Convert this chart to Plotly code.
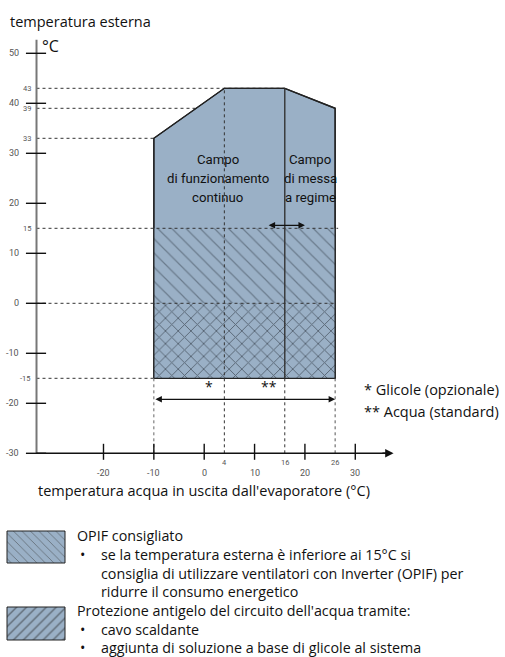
import plotly.graph_objects as go

# ---------------- data ----------------
env_x = [-10, -10, 4, 16, 26, 26, -10]          # operating envelope (water outlet °C)
env_y = [-15, 33, 43, 43, 39, -15, -15]         # operating envelope (ambient °C)
x_lo, x_hi = -10, 26
opif_lo, opif_hi = 0, 15                        # OPIF recommended band
frost_lo, frost_hi = -15, 0                     # antifreeze band
glycol_split = 4
startup_split = 16
y_major = [50, 40, 30, 20, 10, 0, -10, -20, -30]
y_minor = [43, 39, 33, 15, -15]
x_major = [-20, -10, 0, 10, 20, 30]
x_minor = [4, 16, 26]
axis_x0, axis_y0 = -33.3, -30
axis_ytop, axis_xend = 52.7, 37.6
range_arrow_y = -19.2
startup_arrow = (12.5, 20, 15.6)
zone1_lines = ["Campo", "di funzionamento", "continuo"]
zone2_lines = ["Campo", "di messa", "a regime"]
zone_line_y = [28.8, 25.0, 21.1]

FILL = "#9AB0C6"
DARK = "#222222"
NARROW = "Roboto, Liberation Sans Narrow, sans-serif"
SANS = "Open Sans, Noto Sans, sans-serif"

fig = go.Figure()

def line(xs, ys, color=DARK, width=1, dash="solid", xa="x", ya="y"):
    fig.add_trace(go.Scatter(x=xs, y=ys, mode="lines", hoverinfo="skip",
                             line=dict(color=color, width=width, dash=dash),
                             showlegend=False, xaxis=xa, yaxis=ya))

# dotted reference lines hidden under the envelope
line([axis_x0, startup_split], [43, 43], "#333", 1, "dot")
line([axis_x0, x_hi], [39, 39], "#333", 1, "dot")
line([axis_x0, x_lo], [33, 33], "#333", 1, "dot")

# envelope
fig.add_trace(go.Scatter(x=env_x, y=env_y, fill="toself", fillcolor=FILL, mode="lines",
                         line=dict(color=DARK, width=1.3), hoverinfo="skip", showlegend=False))
# hatched bands
fig.add_trace(go.Scatter(x=[x_lo, x_hi, x_hi, x_lo, x_lo], y=[opif_lo, opif_lo, opif_hi, opif_hi, opif_lo],
                         fill="toself", mode="none", hoverinfo="skip", showlegend=False,
                         fillpattern=dict(shape="\\", fgcolor="#3a4552", bgcolor=FILL, size=10, solidity=0.12)))
fig.add_trace(go.Scatter(x=[x_lo, x_hi, x_hi, x_lo, x_lo], y=[frost_lo, frost_lo, frost_hi, frost_hi, frost_lo],
                         fill="toself", mode="none", hoverinfo="skip", showlegend=False,
                         fillpattern=dict(shape="x", fgcolor="#161c22", bgcolor=FILL, size=9, solidity=0.2)))
# outline again on top
line(env_x, env_y, DARK, 1.3)

# dotted lines over
line([axis_x0, x_hi + 0.6], [opif_hi, opif_hi], "#333", 1, "dot")
line([axis_x0, x_hi], [opif_lo, opif_lo], "#333", 1, "dot")
line([axis_x0, x_lo], [frost_lo, frost_lo], "#333", 1, "dot")
line([glycol_split, glycol_split], [axis_y0, 43], "#333", 1, "dot")
line([startup_split, startup_split], [axis_y0, frost_lo], "#333", 1, "dot")
line([x_lo, x_lo], [axis_y0, frost_lo], "#666", 1, "dot")
line([x_hi, x_hi], [axis_y0, frost_lo], "#555", 1, "dot")
line([startup_split, startup_split], [frost_lo, 43], "#333", 1.4)

# axes
line([axis_x0, axis_x0], [axis_y0, axis_ytop], "#777", 2)
line([axis_x0, axis_xend - 1.5], [axis_y0, axis_y0], "#111", 1.4)
for v in y_major:
    line([axis_x0 - 2.1, axis_x0 + 1.9], [v, v], "#111", 1.4)
for v in x_major:
    line([v, v], [axis_y0 + 1.9, axis_y0 - 1.3], "#111", 1.4)

TICKF = dict(family=NARROW, size=9, color="#555")
TICKF_S = dict(family=NARROW, size=7.5, color="#555")
ann = []
ann.append(dict(x=axis_xend, y=axis_y0, ax=axis_xend - 2.5, ay=axis_y0, xref="x", yref="y",
                axref="x", ayref="y", showarrow=True, arrowhead=2, arrowsize=1.2, arrowwidth=1.4,
                arrowcolor="#111", text=""))
for v in y_major:
    ann.append(dict(x=axis_x0 - 3.0, y=v, xref="x", yref="y", text=str(v), showarrow=False,
                    xanchor="right", yanchor="middle", font=TICKF))
for v in y_minor:
    ann.append(dict(x=axis_x0 - 0.6, y=v, xref="x", yref="y", text=str(v), showarrow=False,
                    xanchor="right", yanchor="middle", font=TICKF_S))
for v in x_major:
    ann.append(dict(x=v, y=axis_y0 - 3.9, xref="x", yref="y", text=str(v), showarrow=False,
                    xanchor="center", yanchor="middle", font=TICKF))
for v in x_minor:
    ann.append(dict(x=v, y=axis_y0 - 1.9, xref="x", yref="y", text=str(v), showarrow=False,
                    xanchor="center", yanchor="middle", font=TICKF_S))

# arrows
ann.append(dict(x=x_hi, y=range_arrow_y, ax=x_lo, ay=range_arrow_y, xref="x", yref="y", axref="x", ayref="y",
                showarrow=True, arrowside="end+start", arrowhead=2, startarrowhead=2, arrowsize=1,
                startarrowsize=1, arrowwidth=1.3, arrowcolor="#111", text=""))
ann.append(dict(x=startup_arrow[1], y=startup_arrow[2], ax=startup_arrow[0], ay=startup_arrow[2],
                xref="x", yref="y", axref="x", ayref="y", showarrow=True, arrowside="end+start",
                arrowhead=2, startarrowhead=2, arrowsize=1, startarrowsize=1, arrowwidth=1.3,
                arrowcolor="#111", text=""))

# in-chart labels
INF = dict(family=NARROW, size=13.2, color="#111")
for t, yv in zip(zone1_lines, zone_line_y):
    ann.append(dict(x=2.7, y=yv, xref="x", yref="y", text=t, showarrow=False, font=INF))
for t, yv in zip(zone2_lines, zone_line_y):
    ann.append(dict(x=21.1, y=yv, xref="x", yref="y", text=t, showarrow=False, font=INF))
ann.append(dict(x=1, y=-16.6, xref="x", yref="y", text="*", showarrow=False,
                font=dict(family=SANS, size=14, color="#111")))
ann.append(dict(x=12.8, y=-16.6, xref="x", yref="y", text="**", showarrow=False,
                font=dict(family=SANS, size=14, color="#111")))

def ptext(px, py, text, size=14.5, anchor="left"):
    ann.append(dict(x=px / 505, y=1 - py / 657, xref="paper", yref="paper", text=text, showarrow=False,
                    xanchor=anchor, yanchor="middle", font=dict(family=SANS, size=size, color="#111")))

ptext(8, 21.5, "temperatura esterna", 14.5)
ptext(40, 46, "°C", 16)
ptext(36, 490, "temperatura acqua in uscita dall'evaporatore (°C)", 14.5)
ptext(362, 389, "* Glicole (opzionale)", 14.5)
ptext(362, 411, "** Acqua (standard)", 14.5)

LS = 14.3
ptext(75, 535, "OPIF consigliato", LS)
ptext(78, 554, "•", LS)
ptext(99, 554, "se la temperatura esterna è inferiore ai 15°C si", LS)
ptext(99, 573, "consiglia di utilizzare ventilatori con Inverter (OPIF) per", LS)
ptext(99, 591, "ridurre il consumo energetico", LS)
ptext(75, 610, "Protezione antigelo del circuito dell'acqua tramite:", LS)
ptext(78, 629, "•", LS)
ptext(99, 629, "cavo scaldante", LS)
ptext(78, 647, "•", LS)
ptext(99, 647, "aggiunta di soluzione a base di glicole al sistema", LS)

# legend swatches on a pixel-space axis pair
fig.add_trace(go.Scatter(x=[7, 65, 65, 7, 7], y=[531, 531, 563, 563, 531], fill="toself", mode="lines",
                         line=dict(color=DARK, width=1), xaxis="x2", yaxis="y2", hoverinfo="skip",
                         showlegend=False,
                         fillpattern=dict(shape="\\", fgcolor="#333", bgcolor=FILL, size=6, solidity=0.15)))
fig.add_trace(go.Scatter(x=[7, 65, 65, 7, 7], y=[607, 607, 640, 640, 607], fill="toself", mode="lines",
                         line=dict(color=DARK, width=1), xaxis="x2", yaxis="y2", hoverinfo="skip",
                         showlegend=False,
                         fillpattern=dict(shape="/", fgcolor="#222", bgcolor=FILL, size=7, solidity=0.2)))

fig.update_layout(
    width=505, height=657,
    margin=dict(l=0, r=0, t=0, b=0, autoexpand=False),
    paper_bgcolor="white", plot_bgcolor="rgba(0,0,0,0)",
    xaxis=dict(range=[-40.55, 59.73], domain=[0, 1], visible=False, fixedrange=True),
    yaxis=dict(range=[-70.74, 60.66], domain=[0, 1], visible=False, fixedrange=True),
    xaxis2=dict(range=[0, 505], domain=[0, 1], visible=False, overlaying="x", fixedrange=True),
    yaxis2=dict(range=[657, 0], domain=[0, 1], visible=False, overlaying="y", fixedrange=True),
    annotations=ann,
    showlegend=False,
)

fig.write_html("out.html", config={"displayModeBar": False},
               post_script="document.body.style.margin='0';document.body.style.overflow='hidden';")
